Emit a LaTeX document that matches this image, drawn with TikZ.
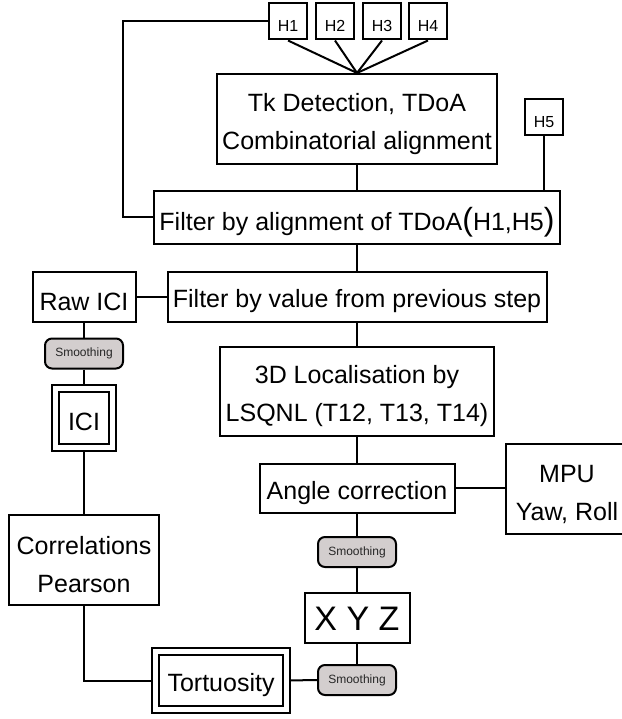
\documentclass[tikz,border=0pt]{standalone}
\usepackage{fontspec}
\setmainfont{Liberation Sans}
\usetikzlibrary{calc,positioning}
\definecolor{smoothgrey}{RGB}{211,206,206}
\newcommand{\toprule}{\rule{0pt}{28pt}}
\tikzstyle{entry}=[draw, line width=2pt, align=center, inner sep=0pt, fill=white, font=\fontsize{25}{38}\selectfont]
\tikzstyle{single}=[entry, text height=28pt]
\tikzstyle{hydro}=[entry, minimum width=38pt, minimum height=36pt, text height=20.5pt, font=\fontsize{16}{19}\selectfont]
\tikzstyle{smooth}=[entry, fill=smoothgrey, rounded corners=7pt, minimum width=78pt, minimum height=30pt, text height=8.8pt, text=black!85, font=\fontsize{12}{14}\selectfont]
\tikzstyle{twin}=[single, double, double distance=5pt]
\tikzstyle{wire}=[line width=2pt]

\begin{document}
\begin{tikzpicture}[x=1pt, y=-1pt]
\useasboundingbox (0,0) rectangle (621,719);
\fill [white] (0,0) rectangle (621,719);

\node (h1) [hydro] at (288,21.5) {H1};
\node (h2) [hydro] at (335,21.5) {H2};
\node (h3) [hydro] at (382,21.5) {H3};
\node (h4) [hydro] at (428,21.5) {H4};
\node (tk) [entry, minimum width=280pt, minimum height=90pt] at (357,119) {\toprule Tk Detection, TDoA\\Combinatorial alignment};
\node (h5) [hydro] at (544,117) {H5};
\node (filt1) [single, minimum width=406pt, minimum height=53pt, text height=32pt] at (357,217.5) {Filter by alignment of TDoA{\fontsize{32}{32}\selectfont(}H1,H5{\fontsize{32}{32}\selectfont)}};
\node (filt2) [single, minimum width=379pt, minimum height=50pt] at (357,296.5) {Filter by value from previous step};
\node (raw) [single, minimum width=103pt, minimum height=50pt] at (84,296.5) {Raw ICI};
\node (sm1) [smooth] at (84,353.5) {Smoothing};
\node (ici) [twin, minimum width=57pt, minimum height=59pt, text height=25pt] at (84,418) {ICI};
\node (corr) [entry, minimum width=150pt, minimum height=90pt] at (84,560) {\toprule Correlations\\Pearson};
\node (loc) [entry, minimum width=274pt, minimum height=89pt] at (357,391.5) {\toprule 3D Localisation by\\LSQNL (T12, T13, T14)};
\node (angle) [single, minimum width=195pt, minimum height=49pt] at (357,488) {Angle correction};
\node (mpu) [entry, minimum width=122pt, minimum height=90pt] at (567,489) {\toprule MPU\\Yaw, Roll};
\node (sm2) [smooth] at (357,552) {Smoothing};
\node (xyz) [single, minimum width=105pt, minimum height=50pt, text height=25pt, font=\fontsize{34}{40}\selectfont] at (357,618) {X Y Z};
\node (sm3) [smooth] at (357,680) {Smoothing};
\node (tort) [twin, minimum width=131pt, minimum height=58pt] at (221,680.5) {Tortuosity};

\coordinate (lft) at (123,21.5);
\draw [wire] (h1.west) -- (lft) |- (filt1.west);
\draw [wire] (h1.south) -- (tk.north);
\draw [wire] (h2.south) -- (tk.north);
\draw [wire] (h3.south) -- (tk.north);
\draw [wire] (h4.south) -- (tk.north);
\draw [wire] (tk.south) -- (filt1.north);
\draw [wire] (h5.south) -- (h5.south |- filt1.north);
\draw [wire] (filt1.south) -- (filt2.north);
\draw [wire] (raw.east) -- (filt2.west);
\draw [wire] (raw.south) -- (sm1.north);
\draw [wire, shorten >=3.5pt] (sm1.south) -- (ici.north);
\draw [wire, shorten <=3.5pt] (ici.south) -- (corr.north);
\draw [wire, shorten >=3.5pt] (corr.south) |- (tort.west);
\draw [wire] (filt2.south) -- (loc.north);
\draw [wire] (loc.south) -- (angle.north);
\draw [wire] (angle.east) -- (angle.east -| mpu.west);
\draw [wire] (angle.south) -- (sm2.north);
\draw [wire] (sm2.south) -- (xyz.north);
\draw [wire] (xyz.south) -- (sm3.north);
\draw [wire, shorten >=3.5pt] (sm3.west) -- (tort.east);

\end{tikzpicture}
\end{document}
